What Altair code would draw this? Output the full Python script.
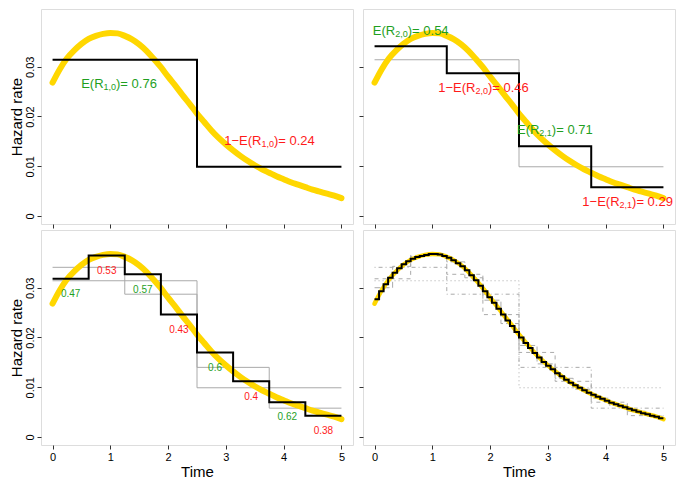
import altair as alt
import pandas as pd

# ---------------- data ----------------
curve_t = [0, 0.125, 0.25, 0.375, 0.5, 0.625, 0.75, 0.875, 1.0, 1.125, 1.25, 1.375,
           1.5, 1.625, 1.75, 1.875, 2.0, 2.125, 2.25, 2.375, 2.5, 2.625, 2.75, 2.875,
           3.0, 3.125, 3.25, 3.375, 3.5, 3.625, 3.75, 3.875, 4.0, 4.125, 4.25, 4.375,
           4.5, 4.625, 4.75, 4.875, 5.0]
curve_h = [0.0268, 0.0295, 0.0317, 0.0333, 0.0346, 0.0356, 0.0362, 0.0366, 0.0368,
           0.0367, 0.0362, 0.0355, 0.0345, 0.0332, 0.0316, 0.0299, 0.0280, 0.0262,
           0.0243, 0.0225, 0.0206, 0.0189, 0.0172, 0.0157, 0.0144, 0.0132, 0.0121,
           0.0111, 0.0102, 0.0094, 0.0087, 0.0080, 0.0074, 0.0068, 0.0063, 0.0058,
           0.0053, 0.0049, 0.0045, 0.0041, 0.0036]

step2 = [0.0314, 0.0099]
step4 = [0.0341, 0.0287, 0.0140, 0.0058]
step8 = [0.0318, 0.0365, 0.0327, 0.0246, 0.0170, 0.0112, 0.0070, 0.0043]
step16 = [0.0300, 0.0343, 0.0363, 0.0367, 0.0352, 0.0320, 0.0275, 0.0228,
          0.0184, 0.0147, 0.0118, 0.0096, 0.0078, 0.0064, 0.0052, 0.0042]
step64 = [0.0277, 0.0293, 0.0307, 0.0320, 0.0330, 0.0339, 0.0347, 0.0353,
          0.0358, 0.0362, 0.0364, 0.0366, 0.0368, 0.0368, 0.0367, 0.0364,
          0.0360, 0.0355, 0.0349, 0.0343, 0.0335, 0.0325, 0.0315, 0.0304,
          0.0293, 0.0281, 0.0270, 0.0258, 0.0246, 0.0234, 0.0223, 0.0211,
          0.0200, 0.0189, 0.0179, 0.0169, 0.0160, 0.0151, 0.0143, 0.0136,
          0.0128, 0.0122, 0.0115, 0.0109, 0.0104, 0.0099, 0.0094, 0.0089,
          0.0085, 0.0081, 0.0077, 0.0073, 0.0069, 0.0066, 0.0063, 0.0060,
          0.0057, 0.0054, 0.0051, 0.0048, 0.0046, 0.0043, 0.0041, 0.0038]

x_ticks = [0, 1, 2, 3, 4, 5]
y_ticks = [0, 0.01, 0.02, 0.03]

# annotations: (panel, x centre, y centre, colour, [(text, kind)])
ann_top = [
    ("tl", 1.15, 0.0265, "g", [("E(R", "m"), ("1,0", "s"), (")= 0.76", "m")]),
    ("tl", 3.755, 0.0151, "r", [("1\u2212E(R", "m"), ("1,0", "s"), (")= 0.24", "m")]),
    ("tr", 0.626, 0.03726, "g", [("E(R", "m"), ("2,0", "s"), (")= 0.54", "m")]),
    ("tr", 1.885, 0.0258, "r", [("1\u2212E(R", "m"), ("2,0", "s"), (")= 0.46", "m")]),
    ("tr", 3.12, 0.01726, "g", [("E(R", "m"), ("2,1", "s"), (")= 0.71", "m")]),
    ("tr", 4.38, 0.00284, "r", [("1\u2212E(R", "m"), ("2,1", "s"), (")= 0.29", "m")]),
]
ann_bl_x = [0.3125, 0.9375, 1.5625, 2.1875, 2.8125, 3.4375, 4.0625, 4.6875]
ann_bl_y = [0.0288, 0.0334, 0.0295, 0.0216, 0.0139, 0.0081, 0.0040, 0.0012]
ann_bl_text = ["0.47", "0.53", "0.57", "0.43", "0.6", "0.4", "0.62", "0.38"]
ann_bl_col = ["g", "r", "g", "r", "g", "r", "g", "r"]

# ---------------- style ----------------
W, H = 312, 215
XDOM = [-0.2, 5.2]
YDOM = [-0.0016, 0.0416]
FONT = "Liberation Sans"
GOLD = "#FFD700"
GRAY = "#aaaaaa"
AXC = "#333333"
COLS = {"g": "#1f9f1f", "r": "#ff1a1a"}
FS_MAIN, FS_SUB, FS_SMALL = 13, 9, 10
PXX = W / (XDOM[1] - XDOM[0])
PXY = H / (YDOM[1] - YDOM[0])

CW = {".": 0.278, ",": 0.278, " ": 0.278, "E": 0.667, "R": 0.722, "(": 0.333,
      ")": 0.333, "=": 0.584, "\u2212": 0.584}


def tw(s, size):
    return sum(CW.get(c, 0.556) for c in s) * size


def xenc(show):
    kw = dict(values=x_ticks, labels=show, domain=False, grid=False, tickSize=4,
              tickColor=AXC, labelFont=FONT, labelFontSize=11, labelColor="black",
              labelPadding=2, titleFont=FONT, titleFontSize=15, titleFontWeight="normal",
              titleColor="black", titlePadding=2)
    kw["title"] = "Time" if show else None
    return alt.X("t:Q", scale=alt.Scale(domain=XDOM, nice=False, zero=False),
                 axis=alt.Axis(**kw))


def yenc(show):
    kw = dict(values=y_ticks, labels=show, domain=False, grid=False, tickSize=4,
              tickColor=AXC, labelFont=FONT, labelFontSize=11, labelColor="black",
              labelAngle=270, labelAlign="center", labelBaseline="bottom",
              labelPadding=2,
              labelExpr="datum.value == 0 ? '0' : format(datum.value, '.2f')",
              titleFont=FONT, titleFontSize=15, titleFontWeight="normal",
              titleColor="black", titlePadding=0)
    kw["title"] = "Hazard rate" if show else None
    return alt.Y("h:Q", scale=alt.Scale(domain=YDOM, nice=False, zero=False),
                 axis=alt.Axis(**kw))


def step_df(vals):
    n = len(vals)
    edges = [i * 5 / n for i in range(n + 1)]
    return pd.DataFrame({"t": edges, "h": vals + [vals[-1]]})


curve_df = pd.DataFrame({"t": curve_t, "h": curve_h})


def curve(sx, sy, width):
    return alt.Chart(curve_df).mark_line(color=GOLD, strokeWidth=width, strokeCap="round",
                                         interpolate="monotone").encode(x=xenc(sx), y=yenc(sy))


def step(vals, sx, sy, color, width, dash=None):
    kw = dict(color=color, strokeWidth=width, interpolate="step-after")
    if dash:
        kw["strokeDash"] = dash
    return alt.Chart(step_df(vals)).mark_line(**kw).encode(x=xenc(sx), y=yenc(sy))


def top_text(panel, sx, sy):
    rows = []
    for p, xc, yc, col, parts in ann_top:
        if p != panel:
            continue
        sizes = [FS_MAIN if k == "m" else FS_SUB for _, k in parts]
        total = sum(tw(s, z) for (s, _), z in zip(parts, sizes))
        cum = -total / 2
        for (s, k), z in zip(parts, sizes):
            dy = 0 if k == "m" else 3.0
            rows.append({"t": xc + cum / PXX, "h": yc - dy / PXY, "label": s,
                         "fs": z, "col": COLS[col]})
            cum += tw(s, z)
    df = pd.DataFrame(rows)
    return alt.Chart(df).mark_text(align="left", baseline="middle", font=FONT).encode(
        x=xenc(sx), y=yenc(sy), text="label:N",
        size=alt.Size("fs:Q", scale=None, legend=None),
        color=alt.Color("col:N", scale=None, legend=None))


def bl_text(sx, sy):
    df = pd.DataFrame({"t": ann_bl_x, "h": ann_bl_y, "label": ann_bl_text,
                       "col": [COLS[c] for c in ann_bl_col]})
    return alt.Chart(df).mark_text(align="center", baseline="middle", font=FONT,
                                   fontSize=FS_SMALL).encode(
        x=xenc(sx), y=yenc(sy), text="label:N",
        color=alt.Color("col:N", scale=None, legend=None))


tl = alt.layer(curve(False, True, 6), step(step2, False, True, "black", 2),
               top_text("tl", False, True)).properties(width=W, height=H)
tr = alt.layer(step(step2, False, False, GRAY, 1), curve(False, False, 6),
               step(step4, False, False, "black", 2),
               top_text("tr", False, False)).properties(width=W, height=H)
bl = alt.layer(step(step2, True, True, GRAY, 1), step(step4, True, True, GRAY, 1),
               curve(True, True, 6), step(step8, True, True, "black", 2),
               bl_text(True, True)).properties(width=W, height=H)
br = alt.layer(step(step2, True, False, GRAY, 1, [1, 3]),
               step(step4, True, False, GRAY, 1, [1, 3, 4, 3]),
               step(step8, True, False, GRAY, 1, [4, 4]),
               step(step16, True, False, GRAY, 1, [6, 3]),
               curve(True, False, 4.5),
               step(step64, True, False, "black", 2)).properties(width=W, height=H)

chart = alt.concat(
    tl, tr, bl, br, columns=2, spacing={"row": 6, "column": 10}, bounds="flush"
).properties(
    padding={"left": 0, "top": 0, "right": 2, "bottom": 0}
).configure_view(
    stroke=AXC, strokeWidth=1
).configure(background="white")

chart.save("out.html", embed_options={"renderer": "svg", "actions": False})
